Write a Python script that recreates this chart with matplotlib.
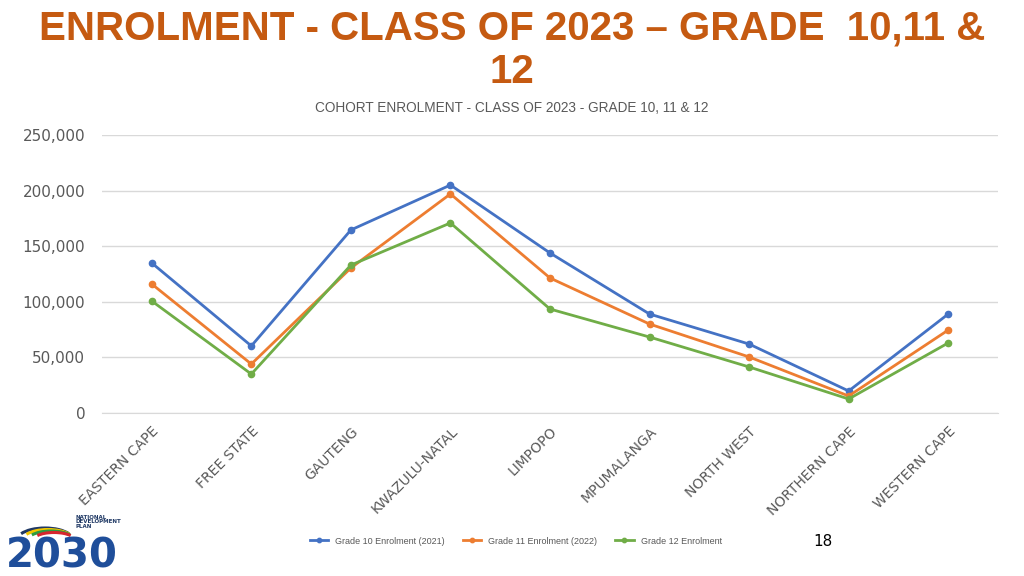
import matplotlib
matplotlib.use("Agg")
import matplotlib.pyplot as plt
from matplotlib.ticker import FuncFormatter
from matplotlib.patches import Arc

provinces = ["EASTERN CAPE", "FREE STATE", "GAUTENG", "KWAZULU-NATAL", "LIMPOPO",
             "MPUMALANGA", "NORTH WEST", "NORTHERN CAPE", "WESTERN CAPE"]
grade10 = [134900, 60300, 164600, 205000, 143900, 89000, 62000, 19800, 89000]
grade11 = [116000, 44000, 130400, 197000, 121400, 80000, 50400, 15300, 74600]
grade12 = [100700, 35000, 133000, 170900, 93500, 68300, 41400, 12600, 63000]
series_names = ["Grade 10 Enrolment (2021)", "Grade 11 Enrolment (2022)", "Grade 12 Enrolment"]
colors = ["#4472C4", "#ED7D31", "#70AD47"]
yticks = [0, 50000, 100000, 150000, 200000, 250000]

fig = plt.figure(figsize=(10.24, 5.76), dpi=100)
ax = fig.add_axes([102/1024, 1-413/576, (998-102)/1024, (413-135)/576])

x = list(range(len(provinces)))
for vals, name, c in zip([grade10, grade11, grade12], series_names, colors):
    ax.plot(x, vals, color=c, lw=2.0, marker="o", ms=4.5, label=name,
            markerfacecolor=c, markeredgecolor=c)

ax.set_xlim(-0.5, len(provinces) - 0.5)
ax.set_ylim(0, 250000)
ax.set_yticks(yticks)
ax.yaxis.set_major_formatter(FuncFormatter(lambda v, p: f"{int(v):,}"))
ax.grid(axis="y", color="#D9D9D9", lw=1)
ax.set_axisbelow(True)
for s in ["top", "right", "left"]:
    ax.spines[s].set_visible(False)
ax.spines["bottom"].set_color("#D9D9D9")
ax.tick_params(axis="y", length=0, labelsize=11, labelcolor="#595959", pad=12)
ax.tick_params(axis="x", length=0, labelsize=10, labelcolor="#595959", pad=8)
ax.set_xticks(x)
ax.set_xticklabels(provinces, rotation=45, ha="right", rotation_mode="anchor")

leg = fig.legend(loc="center", bbox_to_anchor=(516/1024, 1-541/576), ncol=3,
                 frameon=False, prop={"family": "Liberation Sans", "size": 6.5},
                 handlelength=2.0, columnspacing=2.0, markerscale=0.7,
                 labelcolor="#595959")

fig.text(512/1024, 1-28/576, "ENROLMENT - CLASS OF 2023 \u2013 GRADE  10,11 &",
         ha="center", va="center", fontsize=29, fontweight="bold", color="#C55A11",
         family="Liberation Sans")
fig.text(512/1024, 1-72/576, "12", ha="center", va="center", fontsize=29,
         fontweight="bold", color="#C55A11", family="Liberation Sans")
fig.text(512/1024, 1-108/576, "COHORT ENROLMENT - CLASS OF 2023 - GRADE 10, 11 & 12",
         ha="center", va="center", fontsize=9.8, color="#595959",
         family="Liberation Sans")

fig.text(823/1024, 1-542/576, "18", ha="center", va="center", fontsize=11, color="black")

# logo approximation
fig.text(6/1024, 1-576/576, "2030", ha="left", va="bottom", fontsize=29,
         fontweight="bold", color="#1F4E9A", family="DejaVu Sans")
fig.text(76/1024, 1-529/576, "NATIONAL\nDEVELOPMENT\nPLAN", ha="left", va="bottom",
         fontsize=4, fontweight="bold", color="#1F3864", linespacing=0.9)
for i, c in enumerate(["#1F3864", "#F2C500", "#2E9B3F", "#D6262E"]):
    fig.patches.append(Arc((45/1024 + i*3/1024, 1-540/576), (56 - i*5)/1024, (24 - i*3)/576,
                           theta1=25, theta2=155, color=c, lw=2.2,
                           transform=fig.transFigure, figure=fig))

fig.savefig("out.png", dpi=100)
